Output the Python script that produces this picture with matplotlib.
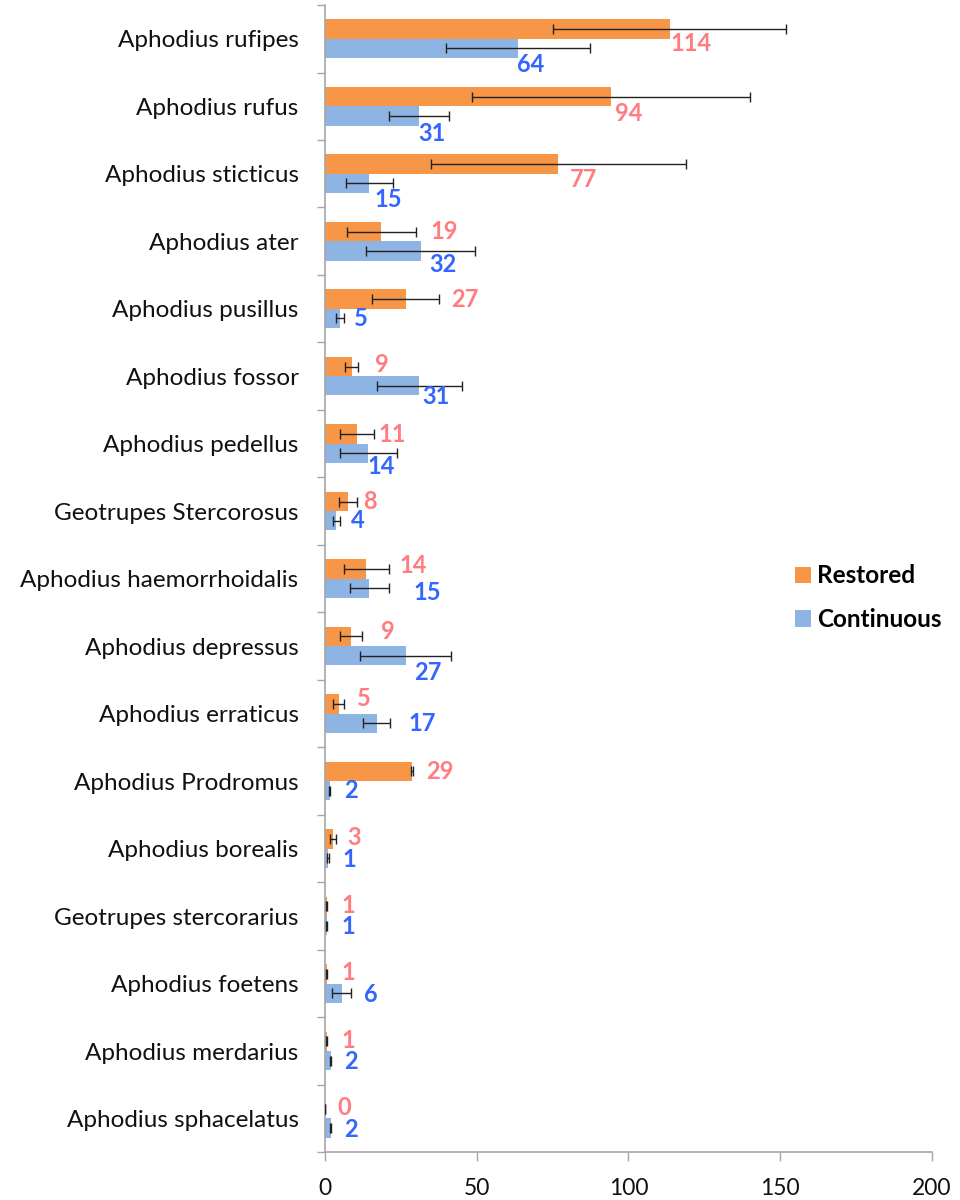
import matplotlib
matplotlib.use("Agg")
import matplotlib.pyplot as plt
from matplotlib.patches import Patch
import numpy as np

# ---- data (top of chart first) ----
species = [
    "Aphodius rufipes", "Aphodius rufus", "Aphodius sticticus", "Aphodius ater",
    "Aphodius pusillus", "Aphodius fossor", "Aphodius pedellus",
    "Geotrupes Stercorosus", "Aphodius haemorrhoidalis", "Aphodius depressus",
    "Aphodius erraticus", "Aphodius Prodromus", "Aphodius borealis",
    "Geotrupes stercorarius", "Aphodius foetens", "Aphodius merdarius",
    "Aphodius sphacelatus",
]
restored = [113.6, 94.2, 76.8, 18.6, 26.6, 8.8, 10.6, 7.5, 13.6, 8.6, 4.6,
            28.8, 2.6, 0.6, 0.6, 0.6, 0.0]
restored_err = [38.4, 45.8, 42.0, 11.5, 11.0, 2.2, 5.5, 2.9, 7.4, 3.6, 1.8,
                0.3, 1.1, 0.1, 0.1, 0.1, 0.0]
continuous = [63.6, 31.0, 14.6, 31.6, 4.9, 31.0, 14.3, 3.8, 14.6, 26.6, 17.0,
              1.6, 1.1, 0.6, 5.5, 1.9, 1.9]
continuous_err = [23.6, 9.8, 7.7, 18.0, 1.3, 14.0, 9.3, 1.0, 6.5, 15.0, 4.5,
                  0.2, 0.3, 0.1, 3.2, 0.2, 0.2]

# value-label nudges in pixels (right, down), as the labels sit in the original
restored_dx = [1, 4, 12, 49, 45, 23, 21, 15, 33, 30, 18, 14, 14, 15, 15, 15, 12]
restored_dy = [14, 17, 15, 0, 0, -2, 0, 0, -3, -5, -5, 0, -1, -1, -1, -1, -1]
continuous_dx = [-1, -1, 5, 8, 14, 3, -1, 14, 44, 8, 32, 14, 14, 15, 22, 13, 13]
continuous_dy = [16, 18, 16, 14, 0, 11, 13, 0, 4, 17, 0, 0, 1, 1, 1, 1, 1]

ORANGE = "#F79646"
BLUE = "#8EB4E3"
RED_TXT = "#FF7C80"
BLUE_TXT = "#3366FF"
GREY = "#A6A6A6"
PX = 0.72  # points per pixel at 100 dpi

plt.rcParams["font.family"] = ["Lato", "DejaVu Sans"]

fig = plt.figure(figsize=(9.6, 12), dpi=100)
ax = fig.add_axes([0.3385, 0.0398, 0.6323, 0.956])

y = np.arange(len(species))
h = 0.286

ax.barh(y - h / 2, restored, height=h, color=ORANGE, edgecolor="none", zorder=2)
ax.barh(y + h / 2, continuous, height=h, color=BLUE, edgecolor="none", zorder=2)
ax.errorbar(restored, y - h / 2, xerr=restored_err, fmt="none", ecolor="#222222",
            elinewidth=1.0, capsize=3.6, capthick=1.0, zorder=3)
ax.errorbar(continuous, y + h / 2, xerr=continuous_err, fmt="none", ecolor="#222222",
            elinewidth=1.0, capsize=3.6, capthick=1.0, zorder=3)

for i in range(len(species)):
    ax.annotate(f"{restored[i]:.0f}", (restored[i], y[i] - h / 2),
                xytext=(restored_dx[i] * PX, -restored_dy[i] * PX), textcoords="offset points",
                ha="left", va="center", color=RED_TXT, fontsize=17, fontweight="bold")
    ax.annotate(f"{continuous[i]:.0f}", (continuous[i], y[i] + h / 2),
                xytext=(continuous_dx[i] * PX, -continuous_dy[i] * PX), textcoords="offset points",
                ha="left", va="center", color=BLUE_TXT, fontsize=17, fontweight="bold")

ax.set_xlim(0, 200)
ax.set_ylim(len(species) - 0.5, -0.5)
ax.set_xticks([0, 50, 100, 150, 200])
ax.set_yticks(y)
ax.set_yticklabels(species)
ax.set_yticks(np.arange(len(species) + 1) - 0.5, minor=True)

ax.tick_params(axis="y", which="major", length=0, pad=19, labelsize=17.5, labelcolor="#111111")
ax.tick_params(axis="y", which="minor", length=6, color=GREY, width=1)
ax.tick_params(axis="x", length=6.5, color=GREY, width=1, pad=12, labelsize=16.5, labelcolor="#111111")

for s in ["top", "right"]:
    ax.spines[s].set_visible(False)
for s in ["left", "bottom"]:
    ax.spines[s].set_color(GREY)
    ax.spines[s].set_linewidth(1.2)

handles = [Patch(facecolor=ORANGE, edgecolor="none", label="Restored"),
           Patch(facecolor=BLUE, edgecolor="none", label="Continuous")]
leg = fig.legend(handles=handles, loc="center left", bbox_to_anchor=(0.828, 0.502),
                 frameon=False, handlelength=0.65, handleheight=0.65, handletextpad=0.25,
                 labelspacing=0.85, borderpad=0, borderaxespad=0,
                 prop={"weight": "bold", "size": 17.5})

fig.savefig("out.png", dpi=100)
